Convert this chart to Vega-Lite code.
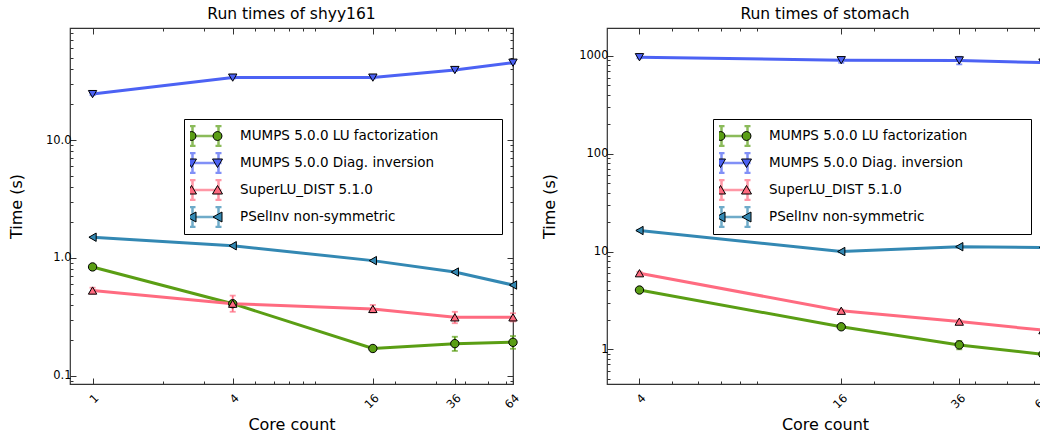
{
  "$schema": "https://vega.github.io/schema/vega-lite/v6.json",
  "padding": {"left": 7, "top": 6, "right": 0, "bottom": 0},
  "spacing": 19,
  "config": {
    "font": "DejaVu Sans",
    "view": {"stroke": "#333333", "strokeWidth": 1.2},
    "title": {"fontSize": 15.5, "fontWeight": "normal", "color": "black", "offset": 5},
    "axis": {"grid": false, "domain": false, "tickColor": "#333333", "tickWidth": 1, "labelColor": "black", "labelFontSize": 11.5, "titleFontSize": 16, "titleFontWeight": "normal", "titleColor": "black", "labelOverlap": false},
    "axisX": {"labelAngle": -45, "labelPadding": 14, "titlePadding": 6},
    "axisY": {"labelPadding": 5, "titlePadding": 21},
    "legend": {"orient": "none", "legendY": 91, "symbolSize": 400, "labelOffset": 23, "symbolOffset": 4, "rowPadding": 5, "clipHeight": 22, "padding": 6, "labelFontSize": 13.5, "labelColor": "black", "labelFont": "DejaVu Sans", "labelLimit": 600}
  },
  "datasets": {
    "shyy": [
      {"series": "MUMPS 5.0.0 LU factorization", "cores": 1, "time": 0.84, "lo": 0.83, "hi": 0.85},
      {"series": "MUMPS 5.0.0 LU factorization", "cores": 4, "time": 0.41, "lo": 0.40, "hi": 0.42},
      {"series": "MUMPS 5.0.0 LU factorization", "cores": 16, "time": 0.171, "lo": 0.167, "hi": 0.175},
      {"series": "MUMPS 5.0.0 LU factorization", "cores": 36, "time": 0.188, "lo": 0.163, "hi": 0.215},
      {"series": "MUMPS 5.0.0 LU factorization", "cores": 64, "time": 0.193, "lo": 0.17, "hi": 0.218},
      {"series": "MUMPS 5.0.0 Diag. inversion", "cores": 1, "time": 24.5, "lo": 24.0, "hi": 25.0},
      {"series": "MUMPS 5.0.0 Diag. inversion", "cores": 4, "time": 33.8, "lo": 33.2, "hi": 34.4},
      {"series": "MUMPS 5.0.0 Diag. inversion", "cores": 16, "time": 33.8, "lo": 33.2, "hi": 34.4},
      {"series": "MUMPS 5.0.0 Diag. inversion", "cores": 36, "time": 39.2, "lo": 38.5, "hi": 39.9},
      {"series": "MUMPS 5.0.0 Diag. inversion", "cores": 64, "time": 45.2, "lo": 44.5, "hi": 46.0},
      {"series": "SuperLU_DIST 5.1.0", "cores": 1, "time": 0.53, "lo": 0.50, "hi": 0.56},
      {"series": "SuperLU_DIST 5.1.0", "cores": 4, "time": 0.41, "lo": 0.35, "hi": 0.48},
      {"series": "SuperLU_DIST 5.1.0", "cores": 16, "time": 0.37, "lo": 0.345, "hi": 0.40},
      {"series": "SuperLU_DIST 5.1.0", "cores": 36, "time": 0.314, "lo": 0.28, "hi": 0.35},
      {"series": "SuperLU_DIST 5.1.0", "cores": 64, "time": 0.314, "lo": 0.29, "hi": 0.34},
      {"series": "PSelInv non-symmetric", "cores": 1, "time": 1.50, "lo": 1.49, "hi": 1.51},
      {"series": "PSelInv non-symmetric", "cores": 4, "time": 1.27, "lo": 1.26, "hi": 1.28},
      {"series": "PSelInv non-symmetric", "cores": 16, "time": 0.95, "lo": 0.94, "hi": 0.96},
      {"series": "PSelInv non-symmetric", "cores": 36, "time": 0.76, "lo": 0.75, "hi": 0.77},
      {"series": "PSelInv non-symmetric", "cores": 64, "time": 0.59, "lo": 0.58, "hi": 0.60}
    ],
    "stomach": [
      {"series": "MUMPS 5.0.0 LU factorization", "cores": 4, "time": 4.04, "lo": 3.95, "hi": 4.13},
      {"series": "MUMPS 5.0.0 LU factorization", "cores": 16, "time": 1.70, "lo": 1.66, "hi": 1.74},
      {"series": "MUMPS 5.0.0 LU factorization", "cores": 36, "time": 1.11, "lo": 1.0, "hi": 1.22},
      {"series": "MUMPS 5.0.0 LU factorization", "cores": 64, "time": 0.89, "lo": 0.86, "hi": 0.92},
      {"series": "MUMPS 5.0.0 Diag. inversion", "cores": 4, "time": 970, "lo": 945, "hi": 995},
      {"series": "MUMPS 5.0.0 Diag. inversion", "cores": 16, "time": 904, "lo": 850, "hi": 960},
      {"series": "MUMPS 5.0.0 Diag. inversion", "cores": 36, "time": 900, "lo": 820, "hi": 980},
      {"series": "MUMPS 5.0.0 Diag. inversion", "cores": 64, "time": 855, "lo": 830, "hi": 880},
      {"series": "SuperLU_DIST 5.1.0", "cores": 4, "time": 6.0, "lo": 5.8, "hi": 6.2},
      {"series": "SuperLU_DIST 5.1.0", "cores": 16, "time": 2.48, "lo": 2.42, "hi": 2.54},
      {"series": "SuperLU_DIST 5.1.0", "cores": 36, "time": 1.92, "lo": 1.86, "hi": 1.98},
      {"series": "SuperLU_DIST 5.1.0", "cores": 64, "time": 1.57, "lo": 1.53, "hi": 1.61},
      {"series": "PSelInv non-symmetric", "cores": 4, "time": 16.4, "lo": 16.1, "hi": 16.7},
      {"series": "PSelInv non-symmetric", "cores": 16, "time": 10.0, "lo": 9.8, "hi": 10.2},
      {"series": "PSelInv non-symmetric", "cores": 36, "time": 11.2, "lo": 11.0, "hi": 11.4},
      {"series": "PSelInv non-symmetric", "cores": 64, "time": 11.0, "lo": 10.8, "hi": 11.2}
    ]
  },
  "hconcat": [
    {
      "width": 443,
      "height": 356,
      "data": {"name": "shyy"},
      "title": "Run times of shyy161",
      "resolve": {"axis": {"x": "independent", "y": "independent"}},
      "layer": [
        {
          "mark": {"type": "errorbar", "thickness": 1.8, "ticks": {"size": 6}},
          "encoding": {
            "x": {"field": "cores", "type": "quantitative", "title": "Core count", "scale": {"type": "log", "domain": [0.8, 64], "nice": false},
              "axis": {"orient": "bottom", "values": [1,2,3,4,5,6,7,8,9,16,20,30,36,40,50,60,64], "labelExpr": "indexof([1,4,16,36,64], datum.value) >= 0 ? '' + datum.value : ''", "tickSize": {"condition": {"test": "indexof([1,4,16,36,64], datum.value) >= 0", "value": -6}, "value": -3}}},
            "y": {"field": "lo", "type": "quantitative", "title": "Time (s)", "scale": {"type": "log", "domain": [0.0855, 89], "nice": false},
              "axis": {"orient": "left", "values": [0.09,0.1,0.2,0.3,0.4,0.5,0.6,0.7,0.8,0.9,1,2,3,4,5,6,7,8,9,10,20,30,40,50,60,70,80], "labelExpr": "datum.value === 0.1 ? '0.1' : datum.value === 1 ? '1.0' : datum.value === 10 ? '10.0' : ''", "tickSize": {"condition": {"test": "indexof([0.1,1,10], datum.value) >= 0", "value": -6}, "value": -3}}},
            "y2": {"field": "hi"},
            "color": {"field": "series", "type": "nominal",
              "scale": {"domain": ["MUMPS 5.0.0 LU factorization", "MUMPS 5.0.0 Diag. inversion", "SuperLU_DIST 5.1.0", "PSelInv non-symmetric"], "range": ["#5a9e14", "#4c62f4", "#ff6b80", "#3388b3"]},
              "legend": {"title": ".", "titleOrient": "right", "titleColor": "transparent", "titleFontSize": 4, "titlePadding": 56, "legendX": 114, "symbolType": "M-1.6,0H1.6M-1.3,-1V1M1.3,-1V1M-1.6,-1H-1M-1.6,1H-1M1,-1H1.6M1,1H1.6", "symbolStrokeWidth": 2.5, "fillColor": "white", "strokeColor": "black"}}
          }
        },
        {
          "mark": {"type": "line", "strokeWidth": 3},
          "encoding": {
            "x": {"field": "cores", "type": "quantitative", "scale": {"type": "log", "domain": [0.8, 64], "nice": false}, "axis": null},
            "y": {"field": "time", "type": "quantitative", "scale": {"type": "log", "domain": [0.0855, 89], "nice": false}, "axis": null},
            "color": {"field": "series", "type": "nominal",
              "scale": {"domain": ["MUMPS 5.0.0 LU factorization", "MUMPS 5.0.0 Diag. inversion", "SuperLU_DIST 5.1.0", "PSelInv non-symmetric"], "range": ["#5a9e14", "#4c62f4", "#ff6b80", "#3388b3"]},
              "legend": {"title": ".", "titleOrient": "right", "titleColor": "transparent", "titleFontSize": 4, "titlePadding": 56, "legendX": 114, "symbolType": "M-1.6,0H1.6M-1.3,-1V1M1.3,-1V1M-1.6,-1H-1M-1.6,1H-1M1,-1H1.6M1,1H1.6", "symbolStrokeWidth": 2.5, "fillColor": "white", "strokeColor": "black"}}
          }
        },
        {
          "mark": {"type": "point", "filled": true, "stroke": "black", "strokeWidth": 1, "opacity": 1, "size": 70},
          "encoding": {
            "x": {"field": "cores", "type": "quantitative", "scale": {"type": "log", "domain": [0.8, 64], "nice": false},
              "axis": {"orient": "top", "title": null, "labels": false, "values": [1,2,3,4,5,6,7,8,9,16,20,30,36,40,50,60,64], "tickSize": {"condition": {"test": "indexof([1,4,16,36,64], datum.value) >= 0", "value": -6}, "value": -3}}},
            "y": {"field": "time", "type": "quantitative", "scale": {"type": "log", "domain": [0.0855, 89], "nice": false},
              "axis": {"orient": "right", "title": null, "labels": false, "values": [0.09,0.1,0.2,0.3,0.4,0.5,0.6,0.7,0.8,0.9,1,2,3,4,5,6,7,8,9,10,20,30,40,50,60,70,80], "tickSize": {"condition": {"test": "indexof([0.1,1,10], datum.value) >= 0", "value": -6}, "value": -3}}},
            "fill": {"field": "series", "type": "nominal", "sort": ["MUMPS 5.0.0 LU factorization", "MUMPS 5.0.0 Diag. inversion", "SuperLU_DIST 5.1.0", "PSelInv non-symmetric"],
              "scale": {"range": ["#5a9e14", "#4c62f4", "#ff6b80", "#3388b3"]},
              "legend": {"title": null, "legendX": 114, "labelOpacity": 0, "symbolStrokeColor": "black", "symbolStrokeWidth": 1, "symbolOpacity": 1,
                "encode": {"symbols": {"update": {"shape": {"signal": "datum.value === 'MUMPS 5.0.0 LU factorization' ? 'M-0.85,0L-0.91,0.225L-1.075,0.39L-1.3,0.45L-1.525,0.39L-1.69,0.225L-1.75,0L-1.69,-0.225L-1.525,-0.39L-1.3,-0.45L-1.075,-0.39L-0.91,-0.225ZM1.75,0L1.69,0.225L1.525,0.39L1.3,0.45L1.075,0.39L0.91,0.225L0.85,0L0.91,-0.225L1.075,-0.39L1.3,-0.45L1.525,-0.39L1.69,-0.225Z' : datum.value === 'MUMPS 5.0.0 Diag. inversion' ? 'M-1.8,-0.4L-0.8,-0.4L-1.3,0.45ZM0.8,-0.4L1.8,-0.4L1.3,0.45Z' : datum.value === 'SuperLU_DIST 5.1.0' ? 'M-1.8,0.4L-0.8,0.4L-1.3,-0.45ZM0.8,0.4L1.8,0.4L1.3,-0.45Z' : 'M-0.85,-0.5L-0.85,0.5L-1.75,0ZM1.75,-0.5L1.75,0.5L0.85,0Z'"}}}}}},
            "shape": {"field": "series", "type": "nominal", "sort": ["MUMPS 5.0.0 LU factorization", "MUMPS 5.0.0 Diag. inversion", "SuperLU_DIST 5.1.0", "PSelInv non-symmetric"],
              "scale": {"range": ["circle", "triangle-down", "triangle-up", "triangle-left"]}, "legend": null}
          }
        }
      ]
    },
    {
      "width": 436,
      "height": 356,
      "data": {"name": "stomach"},
      "title": "Run times of stomach",
      "resolve": {"axis": {"x": "independent", "y": "independent"}},
      "layer": [
        {
          "mark": {"type": "errorbar", "thickness": 1.8, "ticks": {"size": 6}},
          "encoding": {
            "x": {"field": "cores", "type": "quantitative", "title": "Core count", "scale": {"type": "log", "domain": [3.2, 64], "nice": false},
              "axis": {"orient": "bottom", "values": [4,5,6,7,8,9,16,20,30,36,40,50,60,64], "labelExpr": "indexof([4,16,36,64], datum.value) >= 0 ? '' + datum.value : ''", "tickSize": {"condition": {"test": "indexof([4,16,36,64], datum.value) >= 0", "value": -6}, "value": -3}}},
            "y": {"field": "lo", "type": "quantitative", "title": "Time (s)", "scale": {"type": "log", "domain": [0.442, 1930], "nice": false},
              "axis": {"orient": "left", "values": [0.5,0.6,0.7,0.8,0.9,1,2,3,4,5,6,7,8,9,10,20,30,40,50,60,70,80,90,100,200,300,400,500,600,700,800,900,1000], "labelExpr": "indexof([1,10,100,1000], datum.value) >= 0 ? '' + datum.value : ''", "tickSize": {"condition": {"test": "indexof([1,10,100,1000], datum.value) >= 0", "value": -6}, "value": -3}}},
            "y2": {"field": "hi"},
            "color": {"field": "series", "type": "nominal",
              "scale": {"domain": ["MUMPS 5.0.0 LU factorization", "MUMPS 5.0.0 Diag. inversion", "SuperLU_DIST 5.1.0", "PSelInv non-symmetric"], "range": ["#5a9e14", "#4c62f4", "#ff6b80", "#3388b3"]},
              "legend": {"title": ".", "titleOrient": "right", "titleColor": "transparent", "titleFontSize": 4, "titlePadding": 56, "legendX": 106, "symbolType": "M-1.6,0H1.6M-1.3,-1V1M1.3,-1V1M-1.6,-1H-1M-1.6,1H-1M1,-1H1.6M1,1H1.6", "symbolStrokeWidth": 2.5, "fillColor": "white", "strokeColor": "black"}}
          }
        },
        {
          "mark": {"type": "line", "strokeWidth": 3},
          "encoding": {
            "x": {"field": "cores", "type": "quantitative", "scale": {"type": "log", "domain": [3.2, 64], "nice": false}, "axis": null},
            "y": {"field": "time", "type": "quantitative", "scale": {"type": "log", "domain": [0.442, 1930], "nice": false}, "axis": null},
            "color": {"field": "series", "type": "nominal",
              "scale": {"domain": ["MUMPS 5.0.0 LU factorization", "MUMPS 5.0.0 Diag. inversion", "SuperLU_DIST 5.1.0", "PSelInv non-symmetric"], "range": ["#5a9e14", "#4c62f4", "#ff6b80", "#3388b3"]},
              "legend": {"title": ".", "titleOrient": "right", "titleColor": "transparent", "titleFontSize": 4, "titlePadding": 56, "legendX": 106, "symbolType": "M-1.6,0H1.6M-1.3,-1V1M1.3,-1V1M-1.6,-1H-1M-1.6,1H-1M1,-1H1.6M1,1H1.6", "symbolStrokeWidth": 2.5, "fillColor": "white", "strokeColor": "black"}}
          }
        },
        {
          "mark": {"type": "point", "filled": true, "stroke": "black", "strokeWidth": 1, "opacity": 1, "size": 70},
          "encoding": {
            "x": {"field": "cores", "type": "quantitative", "scale": {"type": "log", "domain": [3.2, 64], "nice": false},
              "axis": {"orient": "top", "title": null, "labels": false, "values": [4,5,6,7,8,9,16,20,30,36,40,50,60,64], "tickSize": {"condition": {"test": "indexof([4,16,36,64], datum.value) >= 0", "value": -6}, "value": -3}}},
            "y": {"field": "time", "type": "quantitative", "scale": {"type": "log", "domain": [0.442, 1930], "nice": false}, "axis": null},
            "fill": {"field": "series", "type": "nominal", "sort": ["MUMPS 5.0.0 LU factorization", "MUMPS 5.0.0 Diag. inversion", "SuperLU_DIST 5.1.0", "PSelInv non-symmetric"],
              "scale": {"range": ["#5a9e14", "#4c62f4", "#ff6b80", "#3388b3"]},
              "legend": {"title": null, "legendX": 106, "labelOpacity": 0, "symbolStrokeColor": "black", "symbolStrokeWidth": 1, "symbolOpacity": 1,
                "encode": {"symbols": {"update": {"shape": {"signal": "datum.value === 'MUMPS 5.0.0 LU factorization' ? 'M-0.85,0L-0.91,0.225L-1.075,0.39L-1.3,0.45L-1.525,0.39L-1.69,0.225L-1.75,0L-1.69,-0.225L-1.525,-0.39L-1.3,-0.45L-1.075,-0.39L-0.91,-0.225ZM1.75,0L1.69,0.225L1.525,0.39L1.3,0.45L1.075,0.39L0.91,0.225L0.85,0L0.91,-0.225L1.075,-0.39L1.3,-0.45L1.525,-0.39L1.69,-0.225Z' : datum.value === 'MUMPS 5.0.0 Diag. inversion' ? 'M-1.8,-0.4L-0.8,-0.4L-1.3,0.45ZM0.8,-0.4L1.8,-0.4L1.3,0.45Z' : datum.value === 'SuperLU_DIST 5.1.0' ? 'M-1.8,0.4L-0.8,0.4L-1.3,-0.45ZM0.8,0.4L1.8,0.4L1.3,-0.45Z' : 'M-0.85,-0.5L-0.85,0.5L-1.75,0ZM1.75,-0.5L1.75,0.5L0.85,0Z'"}}}}}},
            "shape": {"field": "series", "type": "nominal", "sort": ["MUMPS 5.0.0 LU factorization", "MUMPS 5.0.0 Diag. inversion", "SuperLU_DIST 5.1.0", "PSelInv non-symmetric"],
              "scale": {"range": ["circle", "triangle-down", "triangle-up", "triangle-left"]}, "legend": null}
          }
        }
      ]
    }
  ],
  "resolve": {"scale": {"x": "independent", "y": "independent", "color": "independent", "fill": "independent", "shape": "independent"}}
}
